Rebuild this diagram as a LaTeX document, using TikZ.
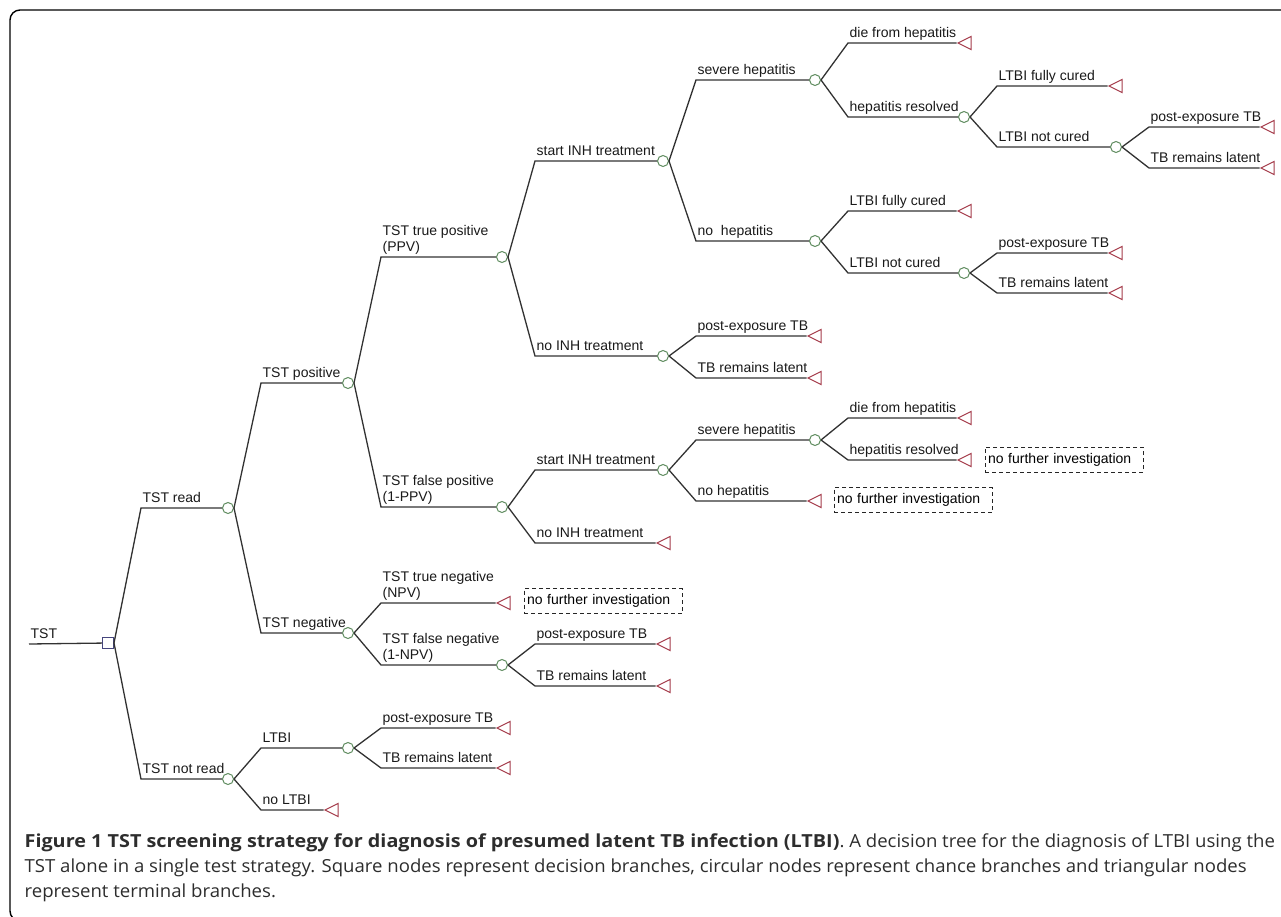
\documentclass[tikz,border=0pt]{standalone}
\usepackage{xcolor}
\usepackage{fontspec}
\setmainfont{Liberation Sans}
\newfontfamily\capfont[FakeStretch=1.032, BoldFeatures={FakeStretch=1.10}]{Open Sans}
\definecolor{chancegreen}{RGB}{95, 140, 95}
\definecolor{endred}{RGB}{165, 60, 75}
\definecolor{decblue}{RGB}{70, 70, 125}
\definecolor{branchgray}{RGB}{50, 50, 50}
\definecolor{captext}{RGB}{45, 45, 45}
\usetikzlibrary{shapes.geometric, calc}

\begin{document}
\begin{tikzpicture}[
    x=1pt, y=-1pt,
    draw=branchgray, line width=1.3pt,
    font=\fontsize{14}{16}\selectfont,
    chance/.style={circle, draw=chancegreen, line width=1pt, fill=white, inner sep=0pt, minimum size=11pt},
    decision/.style={rectangle, draw=decblue, line width=1pt, fill=white, inner sep=0pt, minimum size=11pt},
    terminal/.style={isosceles triangle, isosceles triangle stretches, shape border rotate=180, draw=endred, line width=1pt, inner sep=0pt, minimum width=13pt, minimum height=13pt},
    note/.style={draw=black!85, dash pattern=on 4pt off 3pt, line width=1pt, inner sep=3pt, text width=152pt, minimum height=25pt, align=left},
    lbl/.style={anchor=south west, inner xsep=1pt, inner ysep=5pt, text depth=0pt, align=left, text=black!90},
    branch/.style={to path={let \p1=(\tikztostart), \p2=(\tikztotarget) in -- (\x1+27pt,\y2) node[lbl] {#1} -- (\tikztotarget)}},
    capline/.style={anchor=base west, inner sep=0pt, text=captext, font=\capfont\fontsize{18}{22}\selectfont}
]
    \useasboundingbox (0,0) rectangle (1281,917);
    \draw[draw=black, line width=1.4pt, rounded corners=10pt] (10,10) rectangle (1300,921);

    % decision and chance nodes
    \coordinate (root) at (29,644);
    \node[decision] (tst) at (108,643) {};
    \node[chance] (read) at (228,508) {};
    \node[chance] (notread) at (228,779) {};
    \node[chance] (pos) at (348,383) {};
    \node[chance] (neg) at (348,633) {};
    \node[chance] (ltbi) at (348,748) {};
    \node[chance] (tp) at (502,257) {};
    \node[chance] (fp) at (502,507) {};
    \node[chance] (fn) at (502,665) {};
    \node[chance] (tpINH) at (663,161) {};
    \node[chance] (tpNoINH) at (663,356) {};
    \node[chance] (fpINH) at (663,470) {};
    \node[chance] (tpSev) at (815,80) {};
    \node[chance] (tpNoHep) at (815,241) {};
    \node[chance] (fpSev) at (815,440) {};
    \node[chance] (tpRes) at (964,117) {};
    \node[chance] (tpNotCured) at (964,273) {};
    \node[chance] (resNotCured) at (1116,147) {};

    % terminal nodes
    \node[terminal] (noltbi) at (334,810) {};
    \node[terminal] (tn) at (506,603) {};
    \node[terminal] (ltbiPE) at (506,728) {};
    \node[terminal] (ltbiLat) at (506,768) {};
    \node[terminal] (fpNoINH) at (666,543) {};
    \node[terminal] (fnPE) at (666,644) {};
    \node[terminal] (fnLat) at (666,686) {};
    \node[terminal] (tpNoINHPE) at (817,336) {};
    \node[terminal] (tpNoINHLat) at (817,378) {};
    \node[terminal] (fpNoHep) at (817,501) {};
    \node[terminal] (tpDie) at (967,43) {};
    \node[terminal] (tpCured) at (967,211) {};
    \node[terminal] (fpDie) at (967,418) {};
    \node[terminal] (fpRes) at (967,460) {};
    \node[terminal] (resCured) at (1118,86) {};
    \node[terminal] (ncPE) at (1118,253) {};
    \node[terminal] (ncLat) at (1118,293) {};
    \node[terminal] (rncPE) at (1270,127) {};
    \node[terminal] (rncLat) at (1270,168) {};

    % notes
    \node[note] (tnNote) at (603,601) {no further investigation};
    \node[note] (noHepNote) at (913,500) {no further investigation};
    \node[note] (resNote) at (1064,459.5) {no further investigation};

    % branches
    \draw (root) node[lbl] {TST} -- (tst);
    \draw (tst.east) to[branch={TST read}] (read);
    \draw (tst.east) to[branch={TST not read}] (notread);
    \draw (read.east) to[branch={TST positive}] (pos);
    \draw (read.east) to[branch={TST negative}] (neg);
    \draw (notread.east) to[branch={LTBI}] (ltbi);
    \draw (notread.east) to[branch={no LTBI}] (noltbi);
    \draw (pos.east) to[branch={TST true positive\\(PPV)}] (tp);
    \draw (pos.east) to[branch={TST false positive\\(1-PPV)}] (fp);
    \draw (neg.east) to[branch={TST true negative\\(NPV)}] (tn);
    \draw (neg.east) to[branch={TST false negative\\(1-NPV)}] (fn);
    \draw (ltbi.east) to[branch={post-exposure TB}] (ltbiPE);
    \draw (ltbi.east) to[branch={TB remains latent}] (ltbiLat);
    \draw (tp.east) to[branch={start INH treatment}] (tpINH);
    \draw (tp.east) to[branch={no INH treatment}] (tpNoINH);
    \draw (fp.east) to[branch={start INH treatment}] (fpINH);
    \draw (fp.east) to[branch={no INH treatment}] (fpNoINH);
    \draw (fn.east) to[branch={post-exposure TB}] (fnPE);
    \draw (fn.east) to[branch={TB remains latent}] (fnLat);
    \draw (tpINH.east) to[branch={severe hepatitis}] (tpSev);
    \draw (tpINH.east) to[branch={no\ \ hepatitis}] (tpNoHep);
    \draw (tpNoINH.east) to[branch={post-exposure TB}] (tpNoINHPE);
    \draw (tpNoINH.east) to[branch={TB remains latent}] (tpNoINHLat);
    \draw (fpINH.east) to[branch={severe hepatitis}] (fpSev);
    \draw (fpINH.east) to[branch={no hepatitis}] (fpNoHep);
    \draw (tpSev.east) to[branch={die from hepatitis}] (tpDie);
    \draw (tpSev.east) to[branch={hepatitis resolved}] (tpRes);
    \draw (tpNoHep.east) to[branch={LTBI fully cured}] (tpCured);
    \draw (tpNoHep.east) to[branch={LTBI not cured}] (tpNotCured);
    \draw (fpSev.east) to[branch={die from hepatitis}] (fpDie);
    \draw (fpSev.east) to[branch={hepatitis resolved}] (fpRes);
    \draw (tpRes.east) to[branch={LTBI fully cured}] (resCured);
    \draw (tpRes.east) to[branch={LTBI not cured}] (resNotCured);
    \draw (tpNotCured.east) to[branch={post-exposure TB}] (ncPE);
    \draw (tpNotCured.east) to[branch={TB remains latent}] (ncLat);
    \draw (resNotCured.east) to[branch={post-exposure TB}] (rncPE);
    \draw (resNotCured.east) to[branch={TB remains latent}] (rncLat);

    % caption
    \node[capline] (cap1) at (24,847) {\textbf{Figure 1 TST screening strategy for diagnosis of presumed latent TB infection (LTBI)}. A decision tree for the diagnosis of LTBI using the};
    \node[capline] (cap2) at (24,872) {TST alone in a single test strategy. Square nodes represent decision branches, circular nodes represent chance branches and triangular nodes};
    \node[capline] (cap3) at (24,897) {represent terminal branches.};
\end{tikzpicture}
\end{document}
